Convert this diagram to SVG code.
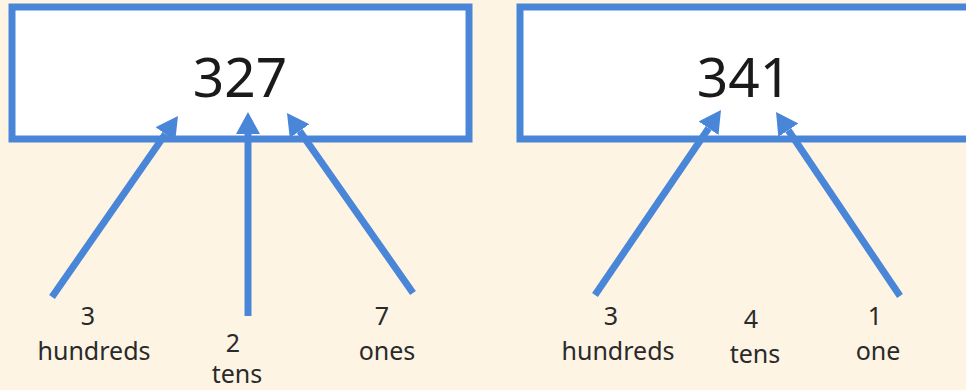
<svg xmlns="http://www.w3.org/2000/svg" width="966" height="390" viewBox="0 0 966 390">
<style>
.box{fill:#ffffff;stroke:#4a86d8;stroke-width:7}
.num{font-family:"Noto Sans","Open Sans",sans-serif;font-size:55px;fill:#1a1a1a;text-anchor:middle}
.lbl{font-family:"Noto Sans","Open Sans",sans-serif;font-size:25px;fill:#2a2a2a;text-anchor:middle}
.arr{stroke:#4a86d8;stroke-width:7;fill:none;marker-end:url(#ah)}
</style>
<defs>
<marker id="ah" markerUnits="userSpaceOnUse" markerWidth="22" markerHeight="24" refX="0" refY="12" orient="auto" viewBox="0 0 22 24">
<path d="M0,0 L22,12 L0,24 z" fill="#4a86d8"/>
</marker>
</defs>
<rect x="0" y="0" width="966" height="390" fill="#fdf4e4"/>
<g id="box327">
<rect class="box" x="12" y="7" width="457" height="132"/>
<text class="num" x="240" y="97">327</text>
</g>
<g id="box341">
<rect class="box" x="520" y="7" width="460" height="132"/>
<text class="num" x="744" y="97">341</text>
</g>
<g id="connectors">
<line class="arr" x1="52" y1="297" x2="165.4" y2="134.1"/>
<line class="arr" x1="248" y1="316" x2="248" y2="134"/>
<line class="arr" x1="413" y1="293" x2="299.6" y2="131"/>
<line class="arr" x1="595" y1="295" x2="708.6" y2="128.2"/>
<line class="arr" x1="900" y1="296" x2="788.3" y2="130.2"/>
</g>
<g id="lbl-hundreds1">
<text class="lbl" x="88" y="325">3</text>
<text class="lbl" x="94" y="360">hundreds</text>
</g>
<g id="lbl-tens1">
<text class="lbl" x="233" y="352">2</text>
<text class="lbl" x="237" y="383">tens</text>
</g>
<g id="lbl-ones1">
<text class="lbl" x="382" y="325">7</text>
<text class="lbl" x="387" y="360">ones</text>
</g>
<g id="lbl-hundreds2">
<text class="lbl" x="611" y="325">3</text>
<text class="lbl" x="618" y="360">hundreds</text>
</g>
<g id="lbl-tens2">
<text class="lbl" x="751" y="328">4</text>
<text class="lbl" x="755" y="363">tens</text>
</g>
<g id="lbl-one2">
<text class="lbl" x="875" y="325">1</text>
<text class="lbl" x="878" y="360">one</text>
</g>
</svg>
